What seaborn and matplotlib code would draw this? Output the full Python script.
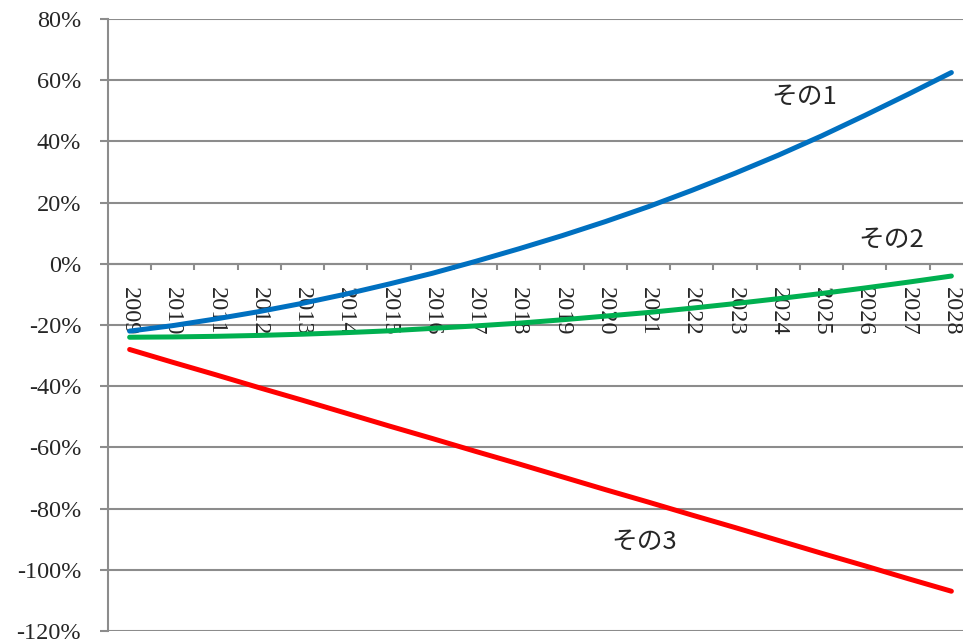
import matplotlib
matplotlib.use('Agg')
import matplotlib.pyplot as plt
import matplotlib.ticker as mticker
import seaborn as sns
import numpy as np
import pandas as pd

# category axis
years = list(range(2009, 2029))

# series values (percent)
series1 = [-22.0, -20.2, -18.0, -15.6, -12.9, -9.9, -6.6, -3.1, 0.8, 4.9,
           9.2, 13.8, 18.7, 24.0, 29.6, 35.5, 41.8, 48.5, 55.4, 62.5]
series2 = [-24.0, -23.9, -23.7, -23.4, -23.0, -22.5, -21.9, -21.1, -20.3, -19.4,
           -18.3, -17.1, -15.9, -14.5, -13.0, -11.4, -9.7, -7.9, -6.0, -4.0]
series3 = [-28.0, -32.2, -36.3, -40.5, -44.6, -48.8, -53.0, -57.1, -61.3, -65.4,
           -69.6, -73.8, -77.9, -82.1, -86.2, -90.4, -94.6, -98.7, -102.9, -107.0]
names = ['その1', 'その2', 'その3']
colors = ['#0070C0', '#00B050', '#FF0000']
y_ticks = list(range(-120, 81, 20))

df = pd.DataFrame({
    'year': years * 3,
    'value': series1 + series2 + series3,
    'series': [names[0]] * 20 + [names[1]] * 20 + [names[2]] * 20,
})

sns.set_style('white')
plt.rcParams['font.family'] = ['Liberation Serif', 'DejaVu Serif']

fig = plt.figure(figsize=(9.63, 6.41), dpi=100)
ax = fig.add_axes([108 / 963, 10 / 641, 865 / 963, 612 / 641])

grid_c = '#8c8c8c'
for v in y_ticks:
    ax.axhline(v, color=grid_c, lw=1.5, zorder=0)

sns.lineplot(data=df, x='year', y='value', hue='series', palette=colors,
             linewidth=3.6, legend=False, ax=ax, zorder=3)

ax.set_xlim(years[0] - 0.5, years[-1] + 0.5)
ax.set_ylim(-120, 80)
ax.set_yticks(y_ticks)
ax.yaxis.set_major_formatter(mticker.FuncFormatter(lambda v, p: f'{v:.0f}%'))
ax.tick_params(axis='y', labelsize=17.5, length=5.8, width=1.5, color=grid_c,
               direction='out', pad=13.5, left=True)

# category axis crossing at zero, ticks between categories
ax.spines['bottom'].set_position(('data', 0))
for s in ['top', 'right']:
    ax.spines[s].set_visible(False)
for s in ['left', 'bottom']:
    ax.spines[s].set_color(grid_c)
    ax.spines[s].set_linewidth(1.5)

ax.set_xticks([y + 0.5 for y in years[:-1]])
ax.set_xticklabels([])
ax.set_xticks(years, minor=True)
ax.set_xticklabels([str(y) for y in years], minor=True, rotation=270,
                   fontsize=17.5, va='top', ha='center')
ax.tick_params(axis='x', which='major', length=4.3, width=1.5, color=grid_c,
               direction='out', bottom=True)
ax.tick_params(axis='x', which='minor', length=0, pad=16.5, bottom=True)
ax.set_xlabel('')
ax.set_ylabel('')

# series labels
label_pos = [(2024.6, 54.6), (2026.6, 7.8), (2020.9, -90.8)]
for name, (lx, ly) in zip(names, label_pos):
    ax.text(lx, ly, name, fontsize=18.5, ha='center', va='center',
            family=['Noto Sans CJK JP', 'DejaVu Sans'], zorder=4)

fig.savefig('out.png', dpi=100)
